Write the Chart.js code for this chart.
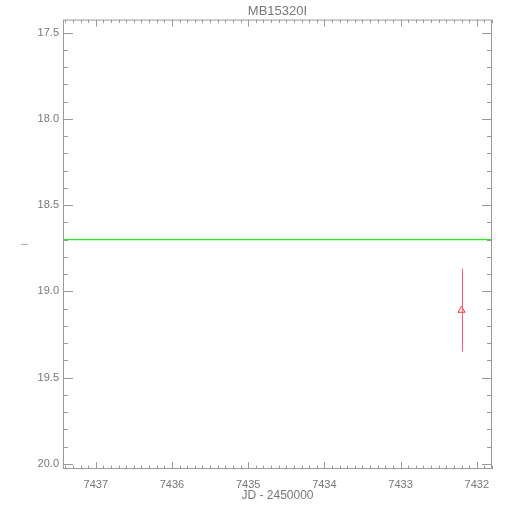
<!DOCTYPE html>
<html>
<head>
<meta charset="utf-8">
<script src="https://cdn.jsdelivr.net/npm/chart.js@4"></script>
<style>
  html, body { margin: 0; padding: 0; background: #fff; }
  #wrap { width: 510px; height: 510px; }
</style>
</head>
<body>
<div id="wrap"><canvas id="lc"></canvas></div>
<script>
// observed point (JD - 2450000, magnitude, error)
var obsJD = [7432.20];
var obsMag = [19.11];
var obsErr = [0.24];

// reference level (green line)
var refJD = [7437.43, 7431.80];
var refMag = [18.70, 18.70];

var xTicks = [7437, 7436, 7435, 7434, 7433, 7432];
var yTicks = [17.5, 18.0, 18.5, 19.0, 19.5, 20.0];

var axisCol = '#9a9a9a';
var textCol = '#777';

// box + inward ticks on all four sides, error bars
var frame = {
  id: 'frame',
  afterDatasetsDraw: function(chart) {
    var ctx = chart.ctx, a = chart.chartArea;
    var xs = chart.scales.x, ys = chart.scales.y;
    ctx.save();
    // error bars
    ctx.strokeStyle = '#ff5a78';
    ctx.lineWidth = 1;
    for (var i = 0; i < obsJD.length; i++) {
      var px = Math.round(xs.getPixelForValue(obsJD[i])) + 0.5;
      ctx.beginPath();
      ctx.moveTo(px, ys.getPixelForValue(obsMag[i] - obsErr[i]));
      ctx.lineTo(px, ys.getPixelForValue(obsMag[i] + obsErr[i]));
      ctx.stroke();
    }
    ctx.strokeStyle = axisCol;
    ctx.strokeRect(a.left + 0.5, a.top + 0.5, a.right - a.left - 1, a.bottom - a.top - 1);
    ctx.beginPath();
    // x ticks, minor every 0.1 day
    for (var k = Math.ceil(xs.min * 10); k <= Math.floor(xs.max * 10); k++) {
      var len = (k % 10 === 0) ? 7 : 3.5;
      var x = Math.round(xs.getPixelForValue(k / 10)) + 0.5;
      ctx.moveTo(x, a.bottom); ctx.lineTo(x, a.bottom - len);
      ctx.moveTo(x, a.top); ctx.lineTo(x, a.top + len);
    }
    // y ticks, minor every 0.1 mag
    for (var m = Math.ceil(ys.min * 10); m <= Math.floor(ys.max * 10); m++) {
      var ylen = (m % 5 === 0) ? 10 : 5;
      var y = Math.round(ys.getPixelForValue(m / 10)) + 0.5;
      ctx.moveTo(a.left, y); ctx.lineTo(a.left + ylen, y);
      ctx.moveTo(a.right, y); ctx.lineTo(a.right - ylen, y);
    }
    ctx.stroke();
    ctx.restore();
  }
};

new Chart('lc', {
  type: 'scatter',
  data: {
    datasets: [{
      data: refJD.map(function(v, i) { return {x: v, y: refMag[i]}; }),
      showLine: true,
      borderColor: '#22ee22',
      backgroundColor: '#22ee22',
      borderWidth: 1.2,
      pointRadius: 0,
      fill: false
    }, {
      data: obsJD.map(function(v, i) { return {x: v, y: obsMag[i]}; }),
      pointStyle: 'triangle',
      pointRadius: 4,
      borderColor: '#ff3030',
      borderWidth: 1,
      backgroundColor: 'rgba(0,0,0,0)'
    }]
  },
  options: {
    responsive: true,
    maintainAspectRatio: false,
    animation: false,
    layout: { padding: { left: 0, right: 18, top: 0, bottom: 0 } },
    plugins: {
      legend: { display: false },
      tooltip: { enabled: false },
      title: {
        display: true,
        text: 'MB15320I',
        fullSize: false,
        color: textCol,
        font: { family: 'Liberation Sans', size: 13, weight: 'normal' },
        padding: { top: 4, bottom: 0 }
      }
    },
    scales: {
      x: {
        type: 'linear',
        reverse: true,
        min: 7431.80,
        max: 7437.43,
        grid: { display: false, drawTicks: false },
        border: { display: false },
        afterBuildTicks: function(s) { s.ticks = xTicks.map(function(v) { return {value: v}; }); },
        afterFit: function(s) { s.height = 41; },
        ticks: {
          color: textCol,
          padding: 9,
          maxRotation: 0,
          font: { family: 'Liberation Sans', size: 11 },
          callback: function(v) { return String(v); }
        },
        title: {
          display: true,
          text: 'JD - 2450000',
          color: textCol,
          font: { family: 'Liberation Sans', size: 12 },
          padding: { top: 0, bottom: 7 }
        }
      },
      y: {
        type: 'linear',
        reverse: true,
        min: 17.425,
        max: 20.03,
        grid: { display: false, drawTicks: false },
        border: { display: false },
        afterBuildTicks: function(s) { s.ticks = yTicks.map(function(v) { return {value: v}; }); },
        afterFit: function(s) { s.width = 63; },
        ticks: {
          color: textCol,
          padding: 4,
          font: { family: 'Liberation Sans', size: 11 },
          callback: function(v) { return v.toFixed(1); }
        },
        title: {
          display: true,
          text: '|',
          color: textCol,
          font: { family: 'Liberation Sans', size: 8 },
          padding: { top: 19, bottom: 0 }
        }
      }
    }
  },
  plugins: [frame]
});
</script>
</body>
</html>
